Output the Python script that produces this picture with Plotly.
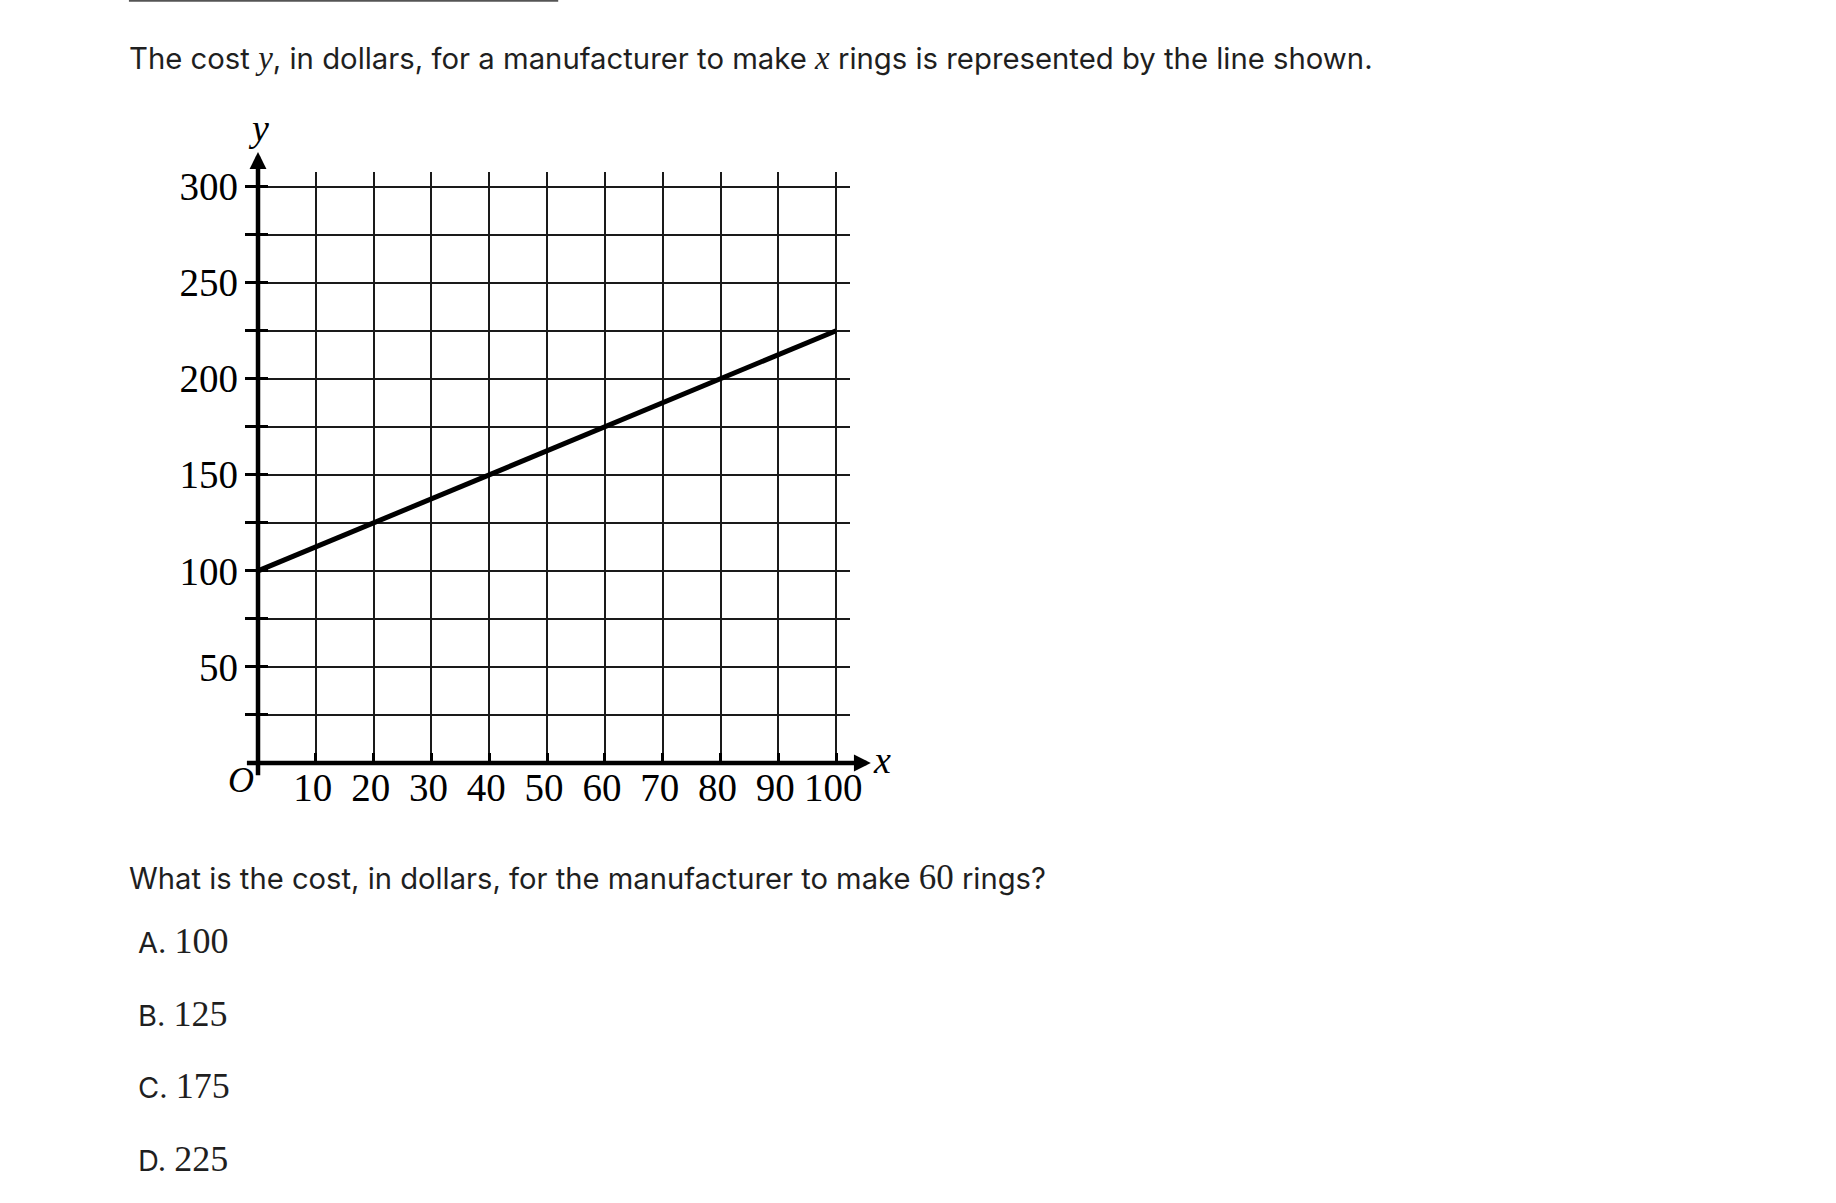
import plotly.graph_objects as go

# ---- data ----
x_line = [0, 100]
y_line = [100, 225]
x_ticks = [10, 20, 30, 40, 50, 60, 70, 80, 90, 100]
x_tick_text = ["10", "20", "30", "40", "50", "60", "70", "80", "90", "100"]
y_ticks = [50, 100, 150, 200, 250, 300]
y_tick_text = ["50", "100", "150", "200", "250", "300"]
y_minor = [25, 75, 125, 175, 225, 275]
choices = ["A.", "B.", "C.", "D."]
choice_vals = ["100", "125", "175", "225"]

W, H = 1836, 1203
X_RANGE = [-2.25, 102.4]
Y_RANGE = [0, 307.6]
# target plot box in page pixels
PL, PR, PT, PB = 245.0, 849.6, 172.1, 763.3
L, R, T, B = PL, W - PR, PT, H - PB
PW, PH = PR - PL, PB - PT

def px(xp):  # page pixel -> paper
    return (xp - PL) / PW

def py(yp):
    return (PB - yp) / PH

def dpx(v):  # data -> page pixel
    return PL + (v - X_RANGE[0]) / (X_RANGE[1] - X_RANGE[0]) * PW

def dpy(v):
    return PB - (v - Y_RANGE[0]) / (Y_RANGE[1] - Y_RANGE[0]) * PH

SANS = "Inter"
SERIF = "Liberation Serif"
TXT = "#1f1f1f"
GRID = "#1a1a1a"

fig = go.Figure()
fig.add_trace(go.Scatter(x=x_line, y=y_line, mode="lines",
                         line=dict(color="black", width=5), showlegend=False,
                         cliponaxis=False, hoverinfo="skip"))

fig.update_xaxes(range=X_RANGE, tickvals=x_ticks, ticktext=x_tick_text,
                 showgrid=True, gridcolor=GRID, gridwidth=2,
                 ticks="inside", ticklen=10, tickwidth=3, tickcolor="black",
                 showline=False, zeroline=False,
                 tickfont=dict(family=SERIF, size=39, color="black"),
                 ticklabelstandoff=-2, ticklabelshift=-3)
fig.update_yaxes(range=Y_RANGE, tickvals=y_ticks, ticktext=y_tick_text,
                 showgrid=True, gridcolor=GRID, gridwidth=2,
                 ticks="inside", ticklen=23, tickwidth=3, tickcolor="black",
                 minor=dict(tickvals=y_minor, ticks="inside", ticklen=23, tickwidth=3,
                            tickcolor="black", showgrid=True, gridcolor=GRID, gridwidth=2),
                 showline=False, zeroline=False,
                 tickfont=dict(family=SERIF, size=39, color="black"),
                 ticklabelstandoff=6)

ann = []
# y axis with arrow (head at top)
y_head, y_tail = 318, -7.1
ann.append(dict(x=px(dpx(0)), y=py(dpy(y_head)), xref="paper", yref="paper",
                axref="pixel", ayref="pixel", ax=0, ay=dpy(y_tail) - dpy(y_head),
                text="", showarrow=True, arrowhead=2, arrowsize=0.75, arrowwidth=4.5,
                arrowcolor="black", standoff=0, startstandoff=0))
# x axis with arrow (head at right)
x_head, x_tail = 106, -2.25
ann.append(dict(x=px(dpx(x_head)), y=py(dpy(0)), xref="paper", yref="paper",
                axref="pixel", ayref="pixel", ax=dpx(x_tail) - dpx(x_head), ay=0,
                text="", showarrow=True, arrowhead=2, arrowsize=0.75, arrowwidth=4.5,
                arrowcolor="black", standoff=0, startstandoff=0))
ann.append(dict(x=px(258), y=py(128.5), xref="paper", yref="paper", text="<i>y</i>",
                showarrow=False, xanchor="center", yanchor="middle",
                font=dict(family=SERIF, size=38, color="black")))
ann.append(dict(x=px(882), y=py(760.5), xref="paper", yref="paper", text="<i>x</i>",
                showarrow=False, xanchor="center", yanchor="middle",
                font=dict(family=SERIF, size=38, color="black")))
ann.append(dict(x=px(241.5), y=py(780), xref="paper", yref="paper", text="<i>O</i>",
                showarrow=False, xanchor="center", yanchor="middle",
                font=dict(family=SERIF, size=36, color="black")))

def serif(s, italic=False, size=None):
    inner = f"<i>{s}</i>" if italic else s
    st = f"font-family:{SERIF}" + (f";font-size:{size}px" if size else "")
    return f'<span style="{st}">{inner}</span>'

title = ("The cost " + serif("y", True, 33) + ", in dollars, for a manufacturer to make "
         + serif("x", True, 33) + " rings is represented by the line shown.")
ann.append(dict(x=px(127), y=py(58.5), xref="paper", yref="paper", text=title,
                showarrow=False, xanchor="left", yanchor="middle",
                font=dict(family=SANS, size=29.3, color=TXT)))
question = ("What is the cost, in dollars, for the manufacturer to make "
            + serif("60", size=35) + " rings?")
ann.append(dict(x=px(127), y=py(878), xref="paper", yref="paper", text=question,
                showarrow=False, xanchor="left", yanchor="middle",
                font=dict(family=SANS, size=29.2, color=TXT)))
for i, (c, v) in enumerate(zip(choices, choice_vals)):
    ann.append(dict(x=px(136.5), y=py(941.5 + i * 72.5), xref="paper", yref="paper",
                    text=c + " " + serif(v, size=36),
                    showarrow=False, xanchor="left", yanchor="middle",
                    font=dict(family=SANS, size=29, color=TXT)))

fig.update_layout(
    width=W, height=H, autosize=False,
    margin=dict(l=L, r=R, t=T, b=B, pad=0, autoexpand=False),
    paper_bgcolor="white", plot_bgcolor="white",
    annotations=ann, showlegend=False, hovermode=False,
    shapes=[dict(type="line", xref="paper", yref="paper", x0=px(129), x1=px(558),
                 y0=py(0.8), y1=py(0.8), line=dict(color="#555555", width=2))],
)

fig.write_html("out.html", config={"displayModeBar": False, "staticPlot": True},
               post_script="document.body.style.margin='0';document.body.style.overflow='hidden';")
